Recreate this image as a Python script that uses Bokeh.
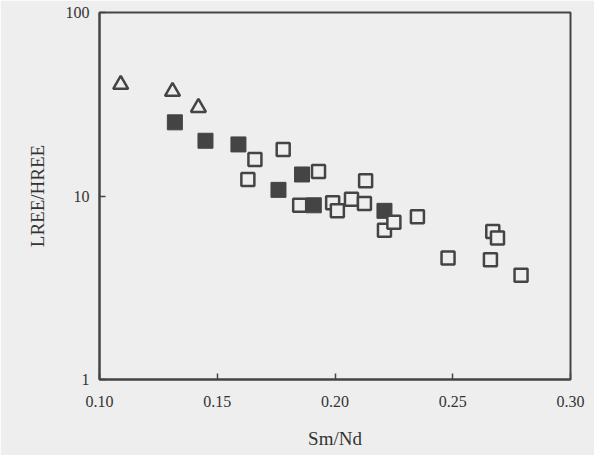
from bokeh.plotting import figure
from bokeh.embed import file_html
from bokeh.resources import INLINE
from bokeh.models import FixedTicker, PrintfTickFormatter

# Data
tri_x = [0.109, 0.131, 0.142]
tri_y = [40.5, 37.1, 30.3]

filled_x = [0.132, 0.145, 0.159, 0.186, 0.176, 0.191, 0.221]
filled_y = [25.2, 20.0, 19.1, 13.1, 10.8, 8.9, 8.3]

open_x = [0.166, 0.178, 0.163, 0.193, 0.185, 0.199, 0.201, 0.207, 0.213, 0.2125,
          0.221, 0.225, 0.235, 0.248, 0.267, 0.269, 0.266, 0.279]
open_y = [15.8, 17.9, 12.3, 13.6, 8.9, 9.2, 8.3, 9.6, 12.1, 9.1,
          6.5, 7.2, 7.7, 4.6, 6.4, 5.9, 4.5, 3.7]

x_ticks = [0.10, 0.15, 0.20, 0.25, 0.30]
y_ticks = [1, 10, 100]

BG = "#eeeeee"
INK = "#444444"
FONT = "Liberation Serif"

p = figure(width=594, height=455, x_range=(0.10, 0.30), y_range=(1, 100),
           y_axis_type="log", output_backend="svg", toolbar_location=None,
           min_border_left=99, min_border_right=24, min_border_top=12,
           min_border_bottom=76)
p.background_fill_color = BG
p.border_fill_color = BG
p.outline_line_color = INK
p.outline_line_width = 2
p.grid.visible = False

p.xaxis.ticker = FixedTicker(ticks=x_ticks)
p.xaxis.formatter = PrintfTickFormatter(format="%.2f")
p.yaxis.ticker = FixedTicker(ticks=y_ticks)
p.yaxis.major_label_overrides = {1: "1", 10: "10", 100: "100"}

for ax in (p.xaxis[0], p.yaxis[0]):
    ax.axis_line_color = INK
    ax.axis_line_width = 2
    ax.major_tick_in = 6
    ax.major_tick_out = 0
    ax.major_tick_line_color = INK
    ax.major_tick_line_width = 1.5
    ax.minor_tick_line_color = None
    ax.major_label_text_font = FONT
    ax.major_label_text_font_size = "16px"
    ax.major_label_text_color = "#333333"
    ax.axis_label_text_font = FONT
    ax.axis_label_text_font_size = "19px"
    ax.axis_label_text_font_style = "normal"
    ax.axis_label_text_color = "#333333"

p.xaxis.major_label_standoff = 16
p.yaxis.major_label_standoff = 10
p.xaxis.axis_label = "Sm/Nd"
p.yaxis.axis_label = "LREE/HREE"
p.xaxis.axis_label_standoff = 18
p.yaxis.axis_label_standoff = 15

p.scatter(tri_x, tri_y, marker="triangle", size=15, fill_color=BG,
          line_color=INK, line_width=2.5)
p.scatter(filled_x, filled_y, marker="square", size=15, fill_color=INK,
          line_color=INK, line_width=1)
p.scatter(open_x, open_y, marker="square", size=13, fill_color=BG,
          line_color=INK, line_width=2.5)

open("out.html", "w").write(file_html(p, INLINE))
